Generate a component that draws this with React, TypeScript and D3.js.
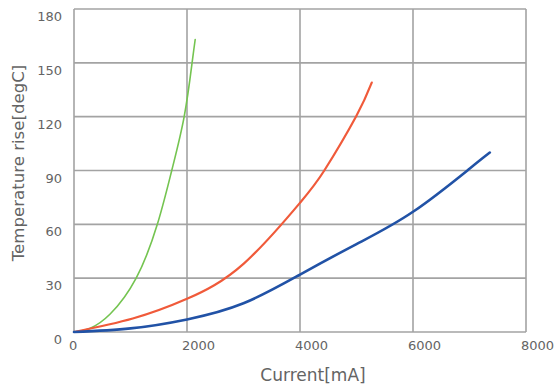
import React from "react";
import * as d3 from "d3";

const xTicks = [0, 2000, 4000, 6000, 8000];
const yTicks = [0, 30, 60, 90, 120, 150, 180];

const greenX = [0, 280, 640, 1100, 1475, 1730, 1950, 2090, 2145];
const greenY = [0, 2, 10, 30, 60, 90, 120, 150, 163];

const redX = [0, 1040, 2000, 3000, 4000, 4430, 4990, 5270];
const redY = [0, 7.5, 18.5, 38, 72, 90, 120, 139];

const blueX = [0, 1000, 2000, 3000, 4000, 5000, 6000, 7000, 7360];
const blueY = [0, 2, 7, 16, 32, 49, 67, 91, 100];

const series = [
  { xs: greenX, ys: greenY, color: "#74c450", width: 1.6 },
  { xs: redX, ys: redY, color: "#f05a3a", width: 2.2 },
  { xs: blueX, ys: blueY, color: "#2152a6", width: 2.6 },
];

export default function App() {
  const W = 556, H = 390;
  const left = 74, right = 526, top = 9, bottom = 332;
  const x = d3.scaleLinear().domain([0, 8000]).range([left, right]);
  const y = d3.scaleLinear().domain([0, 180]).range([bottom, top]);
  const font = "'DejaVu Sans', sans-serif";
  const grid = "#a3a3a3";
  const txt = "#646464";

  const line = d3
    .line<[number, number]>()
    .x((d) => x(d[0]))
    .y((d) => y(d[1]))
    .curve(d3.curveNatural);

  return (
    <svg
      width={W}
      height={H}
      style={{ position: "absolute", left: 0, top: 0, background: "#fff" }}
    >
      <rect x={0} y={0} width={W} height={H} fill="#fff" />
      {yTicks.map((t) => (
        <line key={"gy" + t} x1={left} x2={right} y1={y(t)} y2={y(t)} stroke={grid} strokeWidth={1.6} />
      ))}
      {xTicks.map((t) => (
        <line key={"gx" + t} x1={x(t)} x2={x(t)} y1={top} y2={bottom} stroke={grid} strokeWidth={1.6} />
      ))}
      {series.map((s, i) => (
        <path
          key={i}
          d={line(s.xs.map((v, j) => [v, s.ys[j]] as [number, number])) || ""}
          fill="none"
          stroke={s.color}
          strokeWidth={s.width}
          strokeLinejoin="round"
          strokeLinecap="round"
        />
      ))}
      {yTicks.map((t) => (
        <text key={"ly" + t} x={62} y={y(t) + 12} textAnchor="end" fontFamily={font} fontSize={13} fill={txt}>
          {t}
        </text>
      ))}
      {xTicks.map((t) => (
        <text key={"lx" + t} x={x(t) - 5} y={350} textAnchor="start" fontFamily={font} fontSize={13} fill={txt}>
          {t}
        </text>
      ))}
      <text x={313} y={381} textAnchor="middle" fontFamily={font} fontSize={17} fill={txt}>
        Current[mA]
      </text>
      <text
        transform="translate(24,163) rotate(-90)"
        textAnchor="middle"
        fontFamily={font}
        fontSize={16.6}
        fill={txt}
      >
        Temperature rise[degC]
      </text>
    </svg>
  );
}
